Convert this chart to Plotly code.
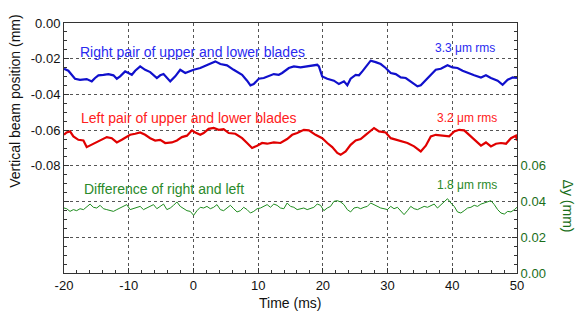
import plotly.graph_objects as go

# ---------------- data ----------------
right_t = [-20.0, -19.33, -18.30, -17.52, -16.49, -15.71, -15.20, -14.68, -13.91, -13.13,
           -12.36, -11.84, -11.33, -10.55, -10.04, -9.52, -9.00, -8.23, -7.46, -6.68,
           -5.65, -5.13, -4.62, -3.58, -2.81, -2.04, -1.26, -0.74, 0.03, 1.06,
           2.09, 3.38, 4.16, 5.19, 6.22, 7.52, 8.29, 8.81, 9.32, 10.10,
           10.87, 11.64, 12.42, 13.19, 13.71, 14.74, 15.52, 16.55, 17.84, 19.13,
           19.39, 19.90, 20.68, 21.71, 22.48, 23.26, 23.78, 24.29, 25.07, 25.58,
           26.10, 26.87, 27.39, 28.16, 28.94, 29.71, 30.49, 31.26, 32.04, 32.81,
           33.58, 34.62, 35.13, 35.91, 36.68, 37.45, 38.23, 39.26, 40.04, 40.81,
           41.59, 42.36, 43.39, 44.43, 45.20, 45.97, 47.01, 47.78, 48.56, 49.33, 50.0]
right_y = [-0.0256, -0.0267, -0.0312, -0.0318, -0.0314, -0.0327, -0.0308, -0.0293, -0.0290, -0.0286,
           -0.0293, -0.0312, -0.0299, -0.0271, -0.0280, -0.0290, -0.0267, -0.0243, -0.0262, -0.0275,
           -0.0308, -0.0293, -0.0286, -0.0327, -0.0299, -0.0262, -0.0280, -0.0271, -0.0262, -0.0252,
           -0.0234, -0.0215, -0.0230, -0.0237, -0.0262, -0.0290, -0.0323, -0.0349, -0.0342, -0.0312,
           -0.0308, -0.0299, -0.0286, -0.0290, -0.0280, -0.0252, -0.0243, -0.0249, -0.0243, -0.0234,
           -0.0243, -0.0299, -0.0312, -0.0323, -0.0342, -0.0327, -0.0349, -0.0312, -0.0290, -0.0293,
           -0.0271, -0.0234, -0.0211, -0.0219, -0.0230, -0.0252, -0.0280, -0.0286, -0.0305, -0.0308,
           -0.0327, -0.0355, -0.0349, -0.0318, -0.0290, -0.0262, -0.0256, -0.0237, -0.0249, -0.0252,
           -0.0267, -0.0280, -0.0293, -0.0305, -0.0293, -0.0308, -0.0323, -0.0346, -0.0318, -0.0305, -0.0308]

left_t = [-20.0, -19.59, -19.07, -18.55, -17.78, -17.00, -16.49, -15.71, -14.94, -14.17,
          -13.39, -12.62, -11.84, -11.07, -10.30, -9.78, -9.00, -8.23, -7.46, -6.68,
          -5.91, -5.13, -4.36, -3.33, -2.55, -1.78, -1.00, -0.23, 0.29, 1.06,
          1.58, 2.35, 3.13, 3.90, 4.67, 5.45, 6.48, 7.52, 8.29, 9.06,
          9.84, 10.61, 11.39, 12.42, 13.45, 14.48, 15.26, 16.03, 17.06, 17.84,
          18.87, 19.90, 20.68, 21.45, 22.23, 22.74, 23.52, 24.29, 25.07, 25.84,
          26.62, 27.39, 27.91, 28.68, 29.71, 30.49, 31.26, 32.04, 33.07, 34.10,
          35.13, 35.91, 36.68, 37.45, 38.49, 39.52, 40.30, 41.07, 41.84, 42.62,
          43.65, 44.43, 45.20, 45.97, 46.75, 47.52, 48.30, 49.07, 49.84, 50.0]
left_y = [-0.0626, -0.0613, -0.0607, -0.0635, -0.0654, -0.0658, -0.0695, -0.0682, -0.0669, -0.0654,
          -0.0639, -0.0645, -0.0669, -0.0654, -0.0639, -0.0626, -0.0620, -0.0613, -0.0626, -0.0645,
          -0.0658, -0.0654, -0.0672, -0.0669, -0.0658, -0.0639, -0.0631, -0.0601, -0.0613, -0.0626,
          -0.0616, -0.0593, -0.0588, -0.0598, -0.0594, -0.0616, -0.0620, -0.0645, -0.0672, -0.0700,
          -0.0687, -0.0672, -0.0676, -0.0669, -0.0672, -0.0650, -0.0626, -0.0616, -0.0598, -0.0601,
          -0.0626, -0.0645, -0.0672, -0.0695, -0.0728, -0.0738, -0.0719, -0.0682, -0.0658, -0.0650,
          -0.0626, -0.0601, -0.0588, -0.0607, -0.0613, -0.0645, -0.0654, -0.0663, -0.0672, -0.0691,
          -0.0719, -0.0687, -0.0635, -0.0626, -0.0631, -0.0635, -0.0607, -0.0598, -0.0601, -0.0626,
          -0.0658, -0.0687, -0.0669, -0.0691, -0.0676, -0.0672, -0.0676, -0.0645, -0.0631, -0.0658]

diff_t = [-20.0, -19.59, -19.07, -18.55, -18.04, -17.52, -17.00, -16.49, -15.97, -15.46,
          -14.94, -14.42, -13.91, -13.39, -12.88, -12.36, -11.84, -11.33, -10.81, -10.30,
          -9.78, -9.26, -8.75, -8.23, -7.72, -7.20, -6.68, -6.17, -5.65, -5.13,
          -4.62, -4.10, -3.58, -3.07, -2.55, -2.04, -1.52, -1.00, -0.49, 0.03,
          0.55, 1.06, 1.58, 2.09, 2.61, 3.13, 3.64, 4.16, 4.67, 5.19,
          5.71, 6.22, 6.74, 7.26, 7.77, 8.29, 8.81, 9.32, 9.84, 10.36,
          10.87, 11.39, 11.90, 12.42, 12.93, 13.45, 13.97, 14.48, 15.00, 15.52,
          16.03, 16.55, 17.06, 17.58, 18.10, 18.61, 19.13, 19.64, 20.16, 20.68,
          21.19, 21.71, 22.23, 22.74, 23.26, 23.78, 24.29, 24.81, 25.32, 25.84,
          26.36, 26.87, 27.39, 27.91, 28.42, 28.94, 29.45, 29.97, 30.49, 31.00,
          31.52, 32.04, 32.55, 33.07, 33.58, 34.10, 34.62, 35.13, 35.65, 36.17,
          36.68, 37.20, 37.71, 38.23, 38.75, 39.26, 39.78, 40.30, 40.81, 41.33,
          41.84, 42.36, 42.88, 43.39, 43.91, 44.43, 44.94, 45.46, 45.97, 46.49,
          47.01, 47.52, 48.04, 48.56, 49.07, 49.59, 50.0]
diff_y = [0.0364, 0.0360, 0.0345, 0.0355, 0.0349, 0.0360, 0.0355, 0.0373, 0.0386, 0.0368,
          0.0364, 0.0379, 0.0360, 0.0355, 0.0349, 0.0345, 0.0355, 0.0364, 0.0373, 0.0383,
          0.0355, 0.0360, 0.0364, 0.0373, 0.0355, 0.0364, 0.0373, 0.0383, 0.0360, 0.0373,
          0.0386, 0.0355, 0.0364, 0.0379, 0.0398, 0.0373, 0.0360, 0.0349, 0.0345, 0.0323,
          0.0349, 0.0368, 0.0364, 0.0373, 0.0360, 0.0368, 0.0383, 0.0355, 0.0349, 0.0364,
          0.0379, 0.0360, 0.0342, 0.0349, 0.0368, 0.0355, 0.0336, 0.0345, 0.0360, 0.0364,
          0.0373, 0.0383, 0.0368, 0.0386, 0.0379, 0.0364, 0.0360, 0.0392, 0.0373, 0.0368,
          0.0355, 0.0360, 0.0364, 0.0355, 0.0360, 0.0368, 0.0386, 0.0379, 0.0349, 0.0364,
          0.0373, 0.0401, 0.0405, 0.0398, 0.0383, 0.0355, 0.0342, 0.0364, 0.0368, 0.0360,
          0.0368, 0.0373, 0.0392, 0.0383, 0.0373, 0.0364, 0.0360, 0.0355, 0.0373, 0.0360,
          0.0368, 0.0345, 0.0327, 0.0349, 0.0373, 0.0360, 0.0355, 0.0364, 0.0373, 0.0368,
          0.0379, 0.0386, 0.0364, 0.0383, 0.0401, 0.0416, 0.0392, 0.0373, 0.0342, 0.0336,
          0.0349, 0.0364, 0.0368, 0.0379, 0.0373, 0.0386, 0.0392, 0.0398, 0.0405, 0.0383,
          0.0355, 0.0336, 0.0330, 0.0345, 0.0342, 0.0355, 0.0368]

left_tickvals = [0.0, -0.02, -0.04, -0.06, -0.08, -0.10, -0.12]
left_ticktext = ["0.00", "-0.02", "-0.04", "-0.06", "-0.08", "", ""]
right_tickvals = [0.0, 0.02, 0.04, 0.06]
right_ticktext = ["0.00", "0.02", "0.04", "0.06"]
x_tickvals = [-20, -10, 0, 10, 20, 30, 40, 50]
x_ticktext = ["-20", "-10", "0", "10", "20", "30", "40", "50"]

labels = ["Right pair of upper and lower blades", "Left pair of upper and lower blades",
          "Difference of right and left"]
rms_labels = ["3.3 \u03bcm rms", "3.2 \u03bcm rms", "1.8 \u03bcm rms"]

# ---------------- figure ----------------
FONT = "Liberation Sans, Arial, sans-serif"
BLUE, RED, GREEN = "#1010cc", "#e00000", "#1e8c1e"
BLUE_T, RED_T, GREEN_T = "#2a2af0", "#ff2020", "#2a8a2a"
AX_GREEN = "#1a6e1a"

fig = go.Figure()
fig.add_trace(go.Scatter(x=right_t, y=right_y, mode="lines",
                         line=dict(color=BLUE, width=2.2), yaxis="y"))
fig.add_trace(go.Scatter(x=left_t, y=left_y, mode="lines",
                         line=dict(color=RED, width=2.2), yaxis="y"))
fig.add_trace(go.Scatter(x=diff_t, y=diff_y, mode="lines",
                         line=dict(color=GREEN, width=1), yaxis="y2"))

axis_common = dict(showline=True, linecolor="#333333", linewidth=1,
                   ticks="inside", ticklen=5, tickcolor="#333333",
                   tickfont=dict(family=FONT, size=13, color="#111111"),
                   zeroline=False)

fig.update_layout(
    width=579, height=311,
    margin=dict(l=64, r=62, t=23, b=38),
    paper_bgcolor="white", plot_bgcolor="white",
    showlegend=False,
    font=dict(family=FONT),
    xaxis=dict(range=[-20, 50], tickvals=x_tickvals, ticktext=x_ticktext,
               showgrid=True, gridcolor="#555555", griddash="dot", gridwidth=1,
               mirror=True,
               minor=dict(ticks="inside", dtick=2, ticklen=3, tickcolor="#333333", showgrid=False),
               **axis_common),
    yaxis=dict(range=[-0.14, 0.0], tickvals=left_tickvals, ticktext=left_ticktext,
               showgrid=True, gridcolor="#555555", griddash="dot", gridwidth=1,
               minor=dict(ticks="inside", dtick=0.005, ticklen=3, tickcolor="#333333", showgrid=False),
               **axis_common),
    yaxis2=dict(range=[0.0, 0.14], overlaying="y", side="right",
                tickvals=right_tickvals, ticktext=right_ticktext,
                showgrid=False,
                minor=dict(ticks="inside", dtick=0.005, ticklen=3, tickcolor="#333333", showgrid=False),
                showline=True, linecolor="#333333", linewidth=1,
                ticks="inside", ticklen=5, tickcolor="#333333",
                tickfont=dict(family=FONT, size=13, color=AX_GREEN),
                zeroline=False),
)

ann = []
ann.append(dict(text=labels[0], x=0.031, y=0.885, font=dict(size=14, color=BLUE_T)))
ann.append(dict(text=rms_labels[0], x=0.815, y=0.901, font=dict(size=12, color=BLUE_T)))
ann.append(dict(text=labels[1], x=0.033, y=0.621, font=dict(size=14, color=RED_T)))
ann.append(dict(text=rms_labels[1], x=0.82, y=0.621, font=dict(size=12, color=RED_T)))
ann.append(dict(text=labels[2], x=0.04, y=0.337, font=dict(size=14, color=GREEN_T)))
ann.append(dict(text=rms_labels[2], x=0.82, y=0.353, font=dict(size=12, color=GREEN_T)))
for a in ann:
    a.update(xref="paper", yref="paper", xanchor="left", yanchor="middle",
             showarrow=False)
    a["font"]["family"] = FONT
    fig.add_annotation(**a)

fig.add_annotation(text="Vertical beam position (mm)", xref="paper", yref="paper",
                   x=-0.108, y=0.689, textangle=-90, showarrow=False,
                   xanchor="center", yanchor="middle",
                   font=dict(family=FONT, size=14, color="#111111"))
fig.add_annotation(text="\u0394y (mm)", xref="paper", yref="paper",
                   x=1.113, y=0.269, textangle=90, showarrow=False,
                   xanchor="center", yanchor="middle",
                   font=dict(family=FONT, size=14, color=AX_GREEN))
fig.add_annotation(text="Time (ms)", xref="paper", yref="paper",
                   x=0.498, y=-0.119, showarrow=False,
                   xanchor="center", yanchor="middle",
                   font=dict(family=FONT, size=14, color="#111111"))

fig.write_html("out.html", config={"displayModeBar": False},
               post_script="document.body.style.margin='0';document.body.style.padding='0';")
